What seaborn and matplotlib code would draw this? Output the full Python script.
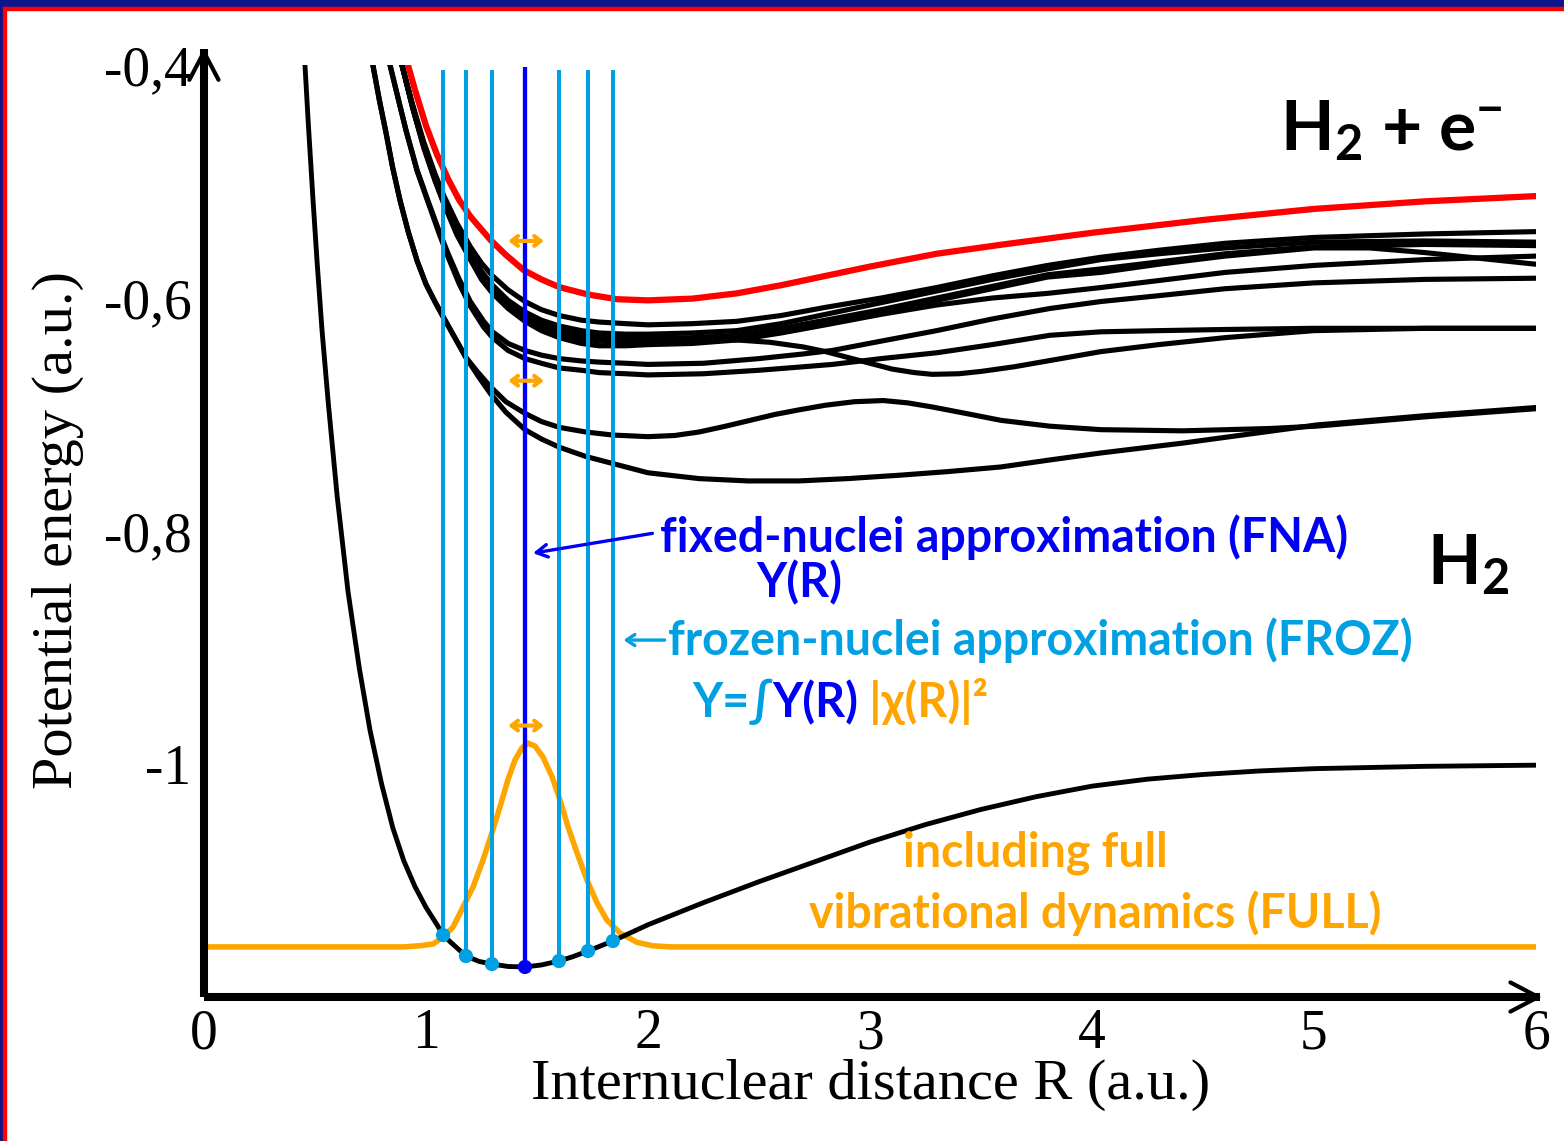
import numpy as np
import pandas as pd
import matplotlib
matplotlib.use('Agg')
import matplotlib.pyplot as plt
import seaborn as sns
from matplotlib.patches import Rectangle
from matplotlib.transforms import offset_copy

# ---------------- data ----------------
# ground state H2 potential curve
gs_R = [0.455, 0.47, 0.491, 0.51, 0.532, 0.56, 0.6, 0.649, 0.7, 0.748, 0.8, 0.851, 0.9, 0.95, 1.0, 1.05,
        1.077, 1.1, 1.18, 1.24, 1.297, 1.37, 1.446, 1.52, 1.599, 1.66, 1.73, 1.842, 1.92, 2.0, 2.25, 2.5,
        2.75, 3.0, 3.25, 3.5, 3.75, 4.0, 4.25, 4.5, 4.75, 5.0, 5.5, 6.0]
gs_E = [-0.40, -0.45, -0.515, -0.57, -0.628, -0.69, -0.77, -0.852, -0.918, -0.971, -1.017, -1.055, -1.083,
        -1.105, -1.123, -1.138, -1.1468, -1.151, -1.1648, -1.1695, -1.1717, -1.1738, -1.1742, -1.1725,
        -1.1691, -1.1655, -1.1605, -1.1519, -1.145, -1.138, -1.119, -1.101, -1.084, -1.067, -1.052, -1.039,
        -1.028, -1.019, -1.013, -1.009, -1.006, -1.004, -1.002, -1.001]

# H2+ curve (red)
ion_R = [0.919, 0.95, 1.0, 1.05, 1.1, 1.15, 1.2, 1.29, 1.36, 1.44, 1.52, 1.6, 1.73, 1.86, 2.0, 2.2, 2.4,
         2.6, 2.8, 3.0, 3.3, 3.6, 3.8, 4.0, 4.5, 5.0, 5.5, 6.0]
ion_E = [-0.40, -0.421, -0.452, -0.477, -0.498, -0.516, -0.530, -0.550, -0.563, -0.576, -0.584, -0.5906,
         -0.597, -0.601, -0.602, -0.6005, -0.596, -0.589, -0.581, -0.573, -0.562, -0.554, -0.549, -0.544,
         -0.533, -0.5235, -0.517, -0.5125]

# resonance curves (black)
c1_R = [0.761, 0.79, 0.82, 0.85, 0.883, 0.92, 0.96, 1.0, 1.04, 1.077, 1.13, 1.18, 1.235, 1.29, 1.36,
        1.446, 1.52, 1.6, 1.72, 1.84, 2.0, 2.23, 2.45, 2.68, 2.9, 3.14, 3.35, 3.59, 3.81, 4.04, 4.41, 4.7,
        5.01, 5.5, 6.0]
c1_E = [-0.400, -0.430, -0.458, -0.488, -0.516, -0.543, -0.568, -0.588, -0.603, -0.616, -0.634, -0.651,
        -0.667, -0.682, -0.698, -0.713, -0.721, -0.728, -0.736, -0.742, -0.750, -0.755, -0.757, -0.757,
        -0.755, -0.752, -0.749, -0.745, -0.739, -0.733, -0.7245, -0.717, -0.709, -0.701, -0.694]
c2_R = [0.761, 0.79, 0.82, 0.85, 0.883, 0.92, 0.96, 1.0, 1.04, 1.077, 1.13, 1.18, 1.235, 1.29, 1.36,
        1.446, 1.52, 1.6, 1.72, 1.84, 2.0, 2.12, 2.23, 2.35, 2.46, 2.57, 2.68, 2.8, 2.93, 3.06, 3.17, 3.28,
        3.43, 3.59, 3.81, 4.04, 4.41, 4.8, 5.01, 5.5, 6.0]
c2_E = [-0.400, -0.430, -0.458, -0.488, -0.516, -0.543, -0.568, -0.588, -0.603, -0.616, -0.634, -0.651,
        -0.664, -0.676, -0.689, -0.699, -0.706, -0.711, -0.715, -0.7176, -0.719, -0.718, -0.715, -0.710,
        -0.705, -0.700, -0.696, -0.692, -0.689, -0.688, -0.690, -0.6935, -0.699, -0.705, -0.710, -0.713,
        -0.714, -0.712, -0.710, -0.702, -0.695]
low_R = [0.838, 0.87, 0.91, 0.96, 1.01, 1.06, 1.1, 1.15, 1.2, 1.26, 1.3, 1.37, 1.446, 1.52, 1.6, 1.7, 1.78,
         1.9, 2.0, 2.25, 2.5, 2.7, 2.83, 3.05, 3.3, 3.55, 3.81, 4.04, 4.3, 4.6, 5.0, 5.5, 6.0]
g_E = [-0.400, -0.425, -0.456, -0.490, -0.517, -0.543, -0.562, -0.584, -0.603, -0.620, -0.629, -0.639,
       -0.645, -0.649, -0.652, -0.654, -0.655, -0.656, -0.657, -0.656, -0.652, -0.648, -0.645, -0.637,
       -0.628, -0.618, -0.609, -0.603, -0.598, -0.592, -0.587, -0.584, -0.583]
f_E = [-0.400, -0.425, -0.456, -0.491, -0.518, -0.545, -0.565, -0.588, -0.607, -0.625, -0.634, -0.645,
       -0.652, -0.656, -0.660, -0.662, -0.664, -0.665, -0.666, -0.665, -0.662, -0.659, -0.657, -0.652,
       -0.647, -0.640, -0.632, -0.629, -0.628, -0.627, -0.626, -0.626, -0.626]
up_R = [0.892, 0.94, 0.99, 1.04, 1.08, 1.14, 1.2, 1.25, 1.3, 1.37, 1.446, 1.52, 1.6, 1.7, 1.78, 1.9, 2.0,
        2.2, 2.4, 2.6, 2.8, 3.05, 3.3, 3.55, 3.8, 4.04, 4.3, 4.6, 5.0, 5.5, 6.0]
u1_E = [-0.400, -0.434, -0.466, -0.493, -0.512, -0.536, -0.556, -0.570, -0.581, -0.593, -0.603, -0.610,
        -0.615, -0.619, -0.6206, -0.622, -0.623, -0.622, -0.620, -0.615, -0.608, -0.600, -0.591, -0.581,
        -0.572, -0.565, -0.559, -0.553, -0.548, -0.545, -0.543]
u2_E = [-0.400, -0.435, -0.468, -0.496, -0.516, -0.541, -0.562, -0.577, -0.589, -0.602, -0.612, -0.619,
        -0.624, -0.628, -0.630, -0.631, -0.631, -0.630, -0.628, -0.622, -0.614, -0.604, -0.594, -0.584,
        -0.575, -0.567, -0.562, -0.557, -0.552, -0.551, -0.552]
u3_E = [-0.400, -0.436, -0.469, -0.497, -0.517, -0.543, -0.564, -0.580, -0.592, -0.605, -0.616, -0.623,
        -0.628, -0.632, -0.634, -0.635, -0.635, -0.634, -0.632, -0.626, -0.619, -0.610, -0.600, -0.590,
        -0.580, -0.575, -0.569, -0.562, -0.556, -0.554, -0.555]
u5_E = [-0.400, -0.437, -0.471, -0.499, -0.519, -0.546, -0.567, -0.584, -0.596, -0.609, -0.620, -0.628,
        -0.634, -0.639, -0.641, -0.641, -0.640, -0.639, -0.636, -0.630, -0.623, -0.614, -0.606, -0.600,
        -0.596, -0.591, -0.585, -0.578, -0.572, -0.567, -0.564]
u4_R = [0.892, 0.94, 0.99, 1.04, 1.08, 1.14, 1.2, 1.25, 1.3, 1.37, 1.446, 1.52, 1.6, 1.7, 1.78, 1.9, 2.0,
        2.2, 2.4, 2.6, 2.8, 3.05, 3.3, 3.55, 3.8, 4.04, 4.3, 4.6, 5.0, 5.25, 5.5, 5.75, 6.0]
u4_E = [-0.400, -0.436, -0.470, -0.498, -0.518, -0.545, -0.566, -0.582, -0.594, -0.607, -0.618, -0.626,
        -0.631, -0.635, -0.637, -0.638, -0.637, -0.636, -0.633, -0.627, -0.620, -0.611, -0.602, -0.592,
        -0.582, -0.578, -0.571, -0.564, -0.557, -0.557, -0.561, -0.566, -0.571]
d_R = [0.892, 0.94, 0.99, 1.04, 1.08, 1.14, 1.2, 1.25, 1.3, 1.37, 1.446, 1.52, 1.6, 1.7, 1.78, 1.9, 2.0,
       2.2, 2.4, 2.55, 2.7, 2.8, 2.9, 3.0, 3.1, 3.2, 3.28, 3.4, 3.5, 3.65, 3.8, 4.04, 4.3, 4.6, 5.0, 5.5, 6.0]
d_E = [-0.400, -0.436, -0.469, -0.497, -0.517, -0.543, -0.564, -0.580, -0.592, -0.605, -0.615, -0.622,
       -0.627, -0.630, -0.632, -0.633, -0.634, -0.635, -0.636, -0.638, -0.642, -0.646, -0.651, -0.656,
       -0.661, -0.664, -0.6655, -0.665, -0.663, -0.659, -0.654, -0.646, -0.640, -0.634, -0.628, -0.626, -0.626]

# vibrational density |chi(R)|^2 drawn on the ground state (orange)
vib_R = [0.0, 0.9, 0.973, 1.032, 1.077, 1.122, 1.167, 1.212, 1.257, 1.297, 1.333, 1.369, 1.401, 1.432,
         1.459, 1.491, 1.527, 1.568, 1.604, 1.64, 1.68, 1.725, 1.77, 1.815, 1.874, 1.95, 2.02, 2.1, 6.0]
vib_E = [-1.157, -1.157, -1.156, -1.1545, -1.1485, -1.140, -1.1227, -1.1056, -1.0824, -1.0592, -1.037,
         -1.0137, -0.9966, -0.9863, -0.982, -0.9846, -0.994, -1.011, -1.031, -1.054, -1.076, -1.0996,
         -1.119, -1.134, -1.145, -1.153, -1.156, -1.157, -1.157]

# frozen-nuclei sampling points and fixed-nuclei point
froz_R = [1.077, 1.18, 1.297, 1.599, 1.73, 1.842]
froz_E = [-1.1468, -1.1648, -1.1717, -1.1691, -1.1605, -1.1519]
fna_R = [1.446]
fna_E = [-1.1742]

# orange double arrows (energies)
darrow_E = [-0.551, -0.671, -0.967]

x_ticks = [0, 1, 2, 3, 4, 5, 6]
x_labels = ['0', '1', '2', '3', '4', '5', '6']
y_ticks = [-1.2, -1.0, -0.8, -0.6, -0.4]
y_labels = ['', '-1', '-0,8', '-0,6', '-0,4']

excited = {'c1': (c1_R, c1_E), 'c2': (c2_R, c2_E), 'g': (low_R, g_E), 'f': (low_R, f_E),
           'u1': (up_R, u1_E), 'u2': (up_R, u2_E), 'u3': (up_R, u3_E), 'u4': (u4_R, u4_E),
           'u5': (up_R, u5_E), 'd': (d_R, d_E)}

# ---------------- style ----------------
sns.set_style('white')
plt.rcParams['font.family'] = ['Liberation Serif', 'DejaVu Serif']
plt.rcParams['mathtext.default'] = 'regular'
plt.rcParams['text.color'] = 'black'

BLACK = '#000000'
RED = '#FF0000'
CYAN = '#00A0E3'
BLUE = '#0000F5'
ORANGE = '#FFA500'
SANS = ['Lato', 'DejaVu Sans']

fig = plt.figure(figsize=(15.64, 11.41), dpi=100)
ax = fig.add_axes([0.1304, 0.1262, 0.8517, 0.8168])

# frame around the slide
fig.patches.append(Rectangle((0, 1 - 7 / 1141), 1, 7 / 1141, transform=fig.transFigure, color='#0C168C', zorder=10))
fig.patches.append(Rectangle((0, 1 - 9.5 / 1141), 1, 2.5 / 1141, transform=fig.transFigure, color=RED, zorder=10))
fig.patches.append(Rectangle((0, 0), 3 / 1564, 1, transform=fig.transFigure, color='#0C168C', zorder=10))
fig.patches.append(Rectangle((3 / 1564, 0), 3 / 1564, 1 - 7 / 1141, transform=fig.transFigure, color=RED, zorder=10))

# curves
sns.lineplot(x=gs_R, y=gs_E, sort=False, estimator=None, color=BLACK, lw=3.5, ax=ax, zorder=3)
sns.lineplot(x=vib_R, y=vib_E, sort=False, estimator=None, color=ORANGE, lw=4.0, ax=ax, zorder=2)

rows = []
for name, (rr, ee) in excited.items():
    for r, e in zip(rr, ee):
        rows.append({'state': name, 'R': r, 'E': e})
df = pd.DataFrame(rows)
sns.lineplot(data=df, x='R', y='E', units='state', estimator=None, sort=False,
             color=BLACK, lw=3.7, ax=ax, zorder=3)
sns.lineplot(x=ion_R, y=ion_E, sort=False, estimator=None, color=RED, lw=4.5, ax=ax, zorder=4)

# frozen / fixed nuclei vertical lines
ax.vlines(froz_R, froz_E, -0.404, color=CYAN, lw=2.9, zorder=5)
ax.vlines(fna_R, fna_E, -0.402, color=BLUE, lw=3.1, zorder=6)
sns.scatterplot(x=froz_R, y=froz_E, color=CYAN, s=105, edgecolor='none', ax=ax, zorder=7)
sns.scatterplot(x=fna_R, y=fna_E, color=BLUE, s=105, edgecolor='none', ax=ax, zorder=7)

for e in darrow_E:
    ax.annotate('', xy=(fna_R[0] - 0.075, e), xytext=(fna_R[0] + 0.085, e),
                arrowprops=dict(arrowstyle='<->,head_length=0.45,head_width=0.35', color=ORANGE, lw=3,
                                shrinkA=0, shrinkB=0), zorder=8)

# axes with arrows
for s in ax.spines.values():
    s.set_visible(False)
ax.set_xlim(0, 6)
ax.set_ylim(-1.2, -0.4)
ax.set_xlabel('')
ax.set_ylabel('')
ax.plot([0, 6.02], [-1.2, -1.2], color=BLACK, lw=5.8, clip_on=False, solid_capstyle='butt', zorder=9)
ax.plot([0, 0], [-1.2, -0.386], color=BLACK, lw=5.8, clip_on=False, solid_capstyle='butt', zorder=9)
ax.annotate('', xy=(6.03, -1.2), xytext=(5.9, -1.2), annotation_clip=False,
            arrowprops=dict(arrowstyle='->,head_length=2.0,head_width=1.05', color=BLACK, lw=3,
                            shrinkA=0, shrinkB=0), zorder=9)
ax.annotate('', xy=(0, -0.385), xytext=(0, -0.45), annotation_clip=False,
            arrowprops=dict(arrowstyle='->,head_length=2.0,head_width=1.05', color=BLACK, lw=3,
                            shrinkA=0, shrinkB=0), zorder=9)

ax.set_xticks(x_ticks)
ax.set_xticklabels(x_labels)
ax.set_xticks(np.arange(0.5, 6, 1.0), minor=True)
ax.set_yticks(y_ticks)
ax.set_yticklabels(y_labels)
ax.set_yticks([-1.1, -0.9, -0.7, -0.5], minor=True)
ax.tick_params(which='major', direction='in', length=19, width=3, labelsize=40, color=BLACK, labelcolor=BLACK)
ax.tick_params(which='minor', direction='in', length=9.5, width=3, color=BLACK)
ax.tick_params(axis='x', which='major', pad=8)
ax.tick_params(axis='y', which='major', pad=9)
for t in [ax.xaxis.get_major_ticks()[0], ax.xaxis.get_major_ticks()[-1],
          ax.yaxis.get_major_ticks()[0], ax.yaxis.get_major_ticks()[-1]]:
    t.tick1line.set_visible(False)
ax.grid(False)

fig.text(871 / 1564, 1 - 1085 / 1141, 'Internuclear distance R (a.u.)', fontsize=42, color=BLACK,
         ha='center', va='center')
fig.text(58 / 1564, 1 - 530 / 1141, 'Potential energy (a.u.)', fontsize=42, color=BLACK, rotation=90,
         ha='center', va='center')

# annotations
kw = dict(family=SANS, fontweight='bold', fontsize=33.5)
ax.text(2.054, -0.818, 'fixed-nuclei approximation (FNA)', color=BLUE, ha='left', va='baseline', **kw)
ax.annotate('', xy=(1.482, -0.819), xytext=(2.02, -0.802),
            arrowprops=dict(arrowstyle='->,head_length=0.8,head_width=0.45', color=BLUE, lw=2.4,
                            shrinkA=0, shrinkB=0), zorder=8)
ax.text(2.68, -0.857, 'Y(R)', color=BLUE, ha='center', va='baseline', **kw)
ax.text(2.09, -0.9064, 'frozen-nuclei approximation (FROZ)', color=CYAN, ha='left', va='baseline', **kw)
ax.annotate('', xy=(1.89, -0.8936), xytext=(2.075, -0.8936),
            arrowprops=dict(arrowstyle='->,head_length=0.6,head_width=0.4', color=CYAN, lw=2.4,
                            shrinkA=0, shrinkB=0), zorder=8)

fig.canvas.draw()
renderer = fig.canvas.get_renderer()
trans = ax.transData
for s, c in [('Y=∫', CYAN), ('Y(R)', BLUE), (' |χ(R)|²', ORANGE)]:
    t = ax.text(2.198, -0.9597, s, color=c, ha='left', va='baseline', transform=trans, **kw)
    ex = t.get_window_extent(renderer=renderer)
    trans = offset_copy(t.get_transform(), x=ex.width, units='dots')

ax.text(3.743, -1.0884, 'including full', color=ORANGE, ha='center', va='baseline', **kw)
ax.text(4.015, -1.1408, 'vibrational dynamics (FULL)', color=ORANGE, ha='center', va='baseline', **kw)

ax.text(4.847, -0.473, 'H$_2$ + e$^{-}$', color=BLACK, ha='left', va='baseline',
        family='Lato', fontweight='bold', fontsize=50)
ax.text(5.509, -0.846, 'H$_2$', color=BLACK, ha='left', va='baseline',
        family='Lato', fontweight='bold', fontsize=50)

fig.savefig('out.png', dpi=100, facecolor='white')
